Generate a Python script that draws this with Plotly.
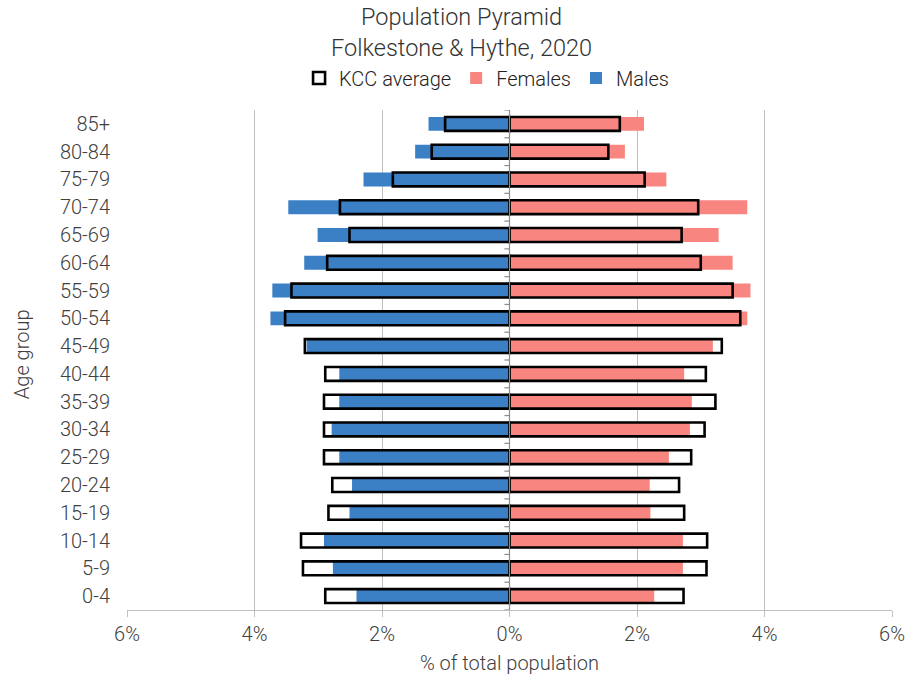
import plotly.graph_objects as go

age_groups = ["0-4", "5-9", "10-14", "15-19", "20-24", "25-29", "30-34", "35-39",
              "40-44", "45-49", "50-54", "55-59", "60-64", "65-69", "70-74",
              "75-79", "80-84", "85+"]
# percent of total population
males = [2.40, 2.77, 2.91, 2.51, 2.47, 2.67, 2.79, 2.67, 2.67, 3.18,
         3.75, 3.72, 3.22, 3.01, 3.47, 2.29, 1.48, 1.27]
females = [2.27, 2.72, 2.72, 2.21, 2.20, 2.50, 2.83, 2.86, 2.74, 3.19,
           3.73, 3.78, 3.50, 3.28, 3.73, 2.46, 1.81, 2.11]
kcc_males = [2.89, 3.24, 3.27, 2.84, 2.78, 2.91, 2.91, 2.91, 2.89, 3.21,
             3.52, 3.42, 2.86, 2.51, 2.66, 1.83, 1.22, 1.01]
kcc_females = [2.73, 3.09, 3.10, 2.74, 2.66, 2.85, 3.06, 3.23, 3.08, 3.33,
               3.62, 3.50, 3.00, 2.70, 2.96, 2.12, 1.55, 1.73]
x_ticks = [-6, -4, -2, 0, 2, 4, 6]
x_tick_labels = ["6%", "4%", "2%", "0%", "2%", "4%", "6%"]

BLUE = "#3b7fc4"
PINK = "#f8857f"
FONT = "Roboto"
TXT = "#404040"

fig = go.Figure()
fig.add_trace(go.Bar(y=age_groups, x=[-v for v in males], orientation="h",
                     name="Males", marker=dict(color=BLUE, line=dict(width=0)),
                     width=0.5, legendrank=3))
fig.add_trace(go.Bar(y=age_groups, x=females, orientation="h",
                     name="Females", marker=dict(color=PINK, line=dict(width=0)),
                     width=0.5, legendrank=2))
fig.add_trace(go.Bar(y=age_groups, x=[-v for v in kcc_males], orientation="h",
                     name="KCC average", legendgroup="kcc",
                     marker=dict(color="rgba(0,0,0,0)", line=dict(color="black", width=2.6)),
                     width=0.5, legendrank=1))
fig.add_trace(go.Bar(y=age_groups, x=kcc_females, orientation="h",
                     name="KCC average", legendgroup="kcc", showlegend=False,
                     marker=dict(color="rgba(0,0,0,0)", line=dict(color="black", width=2.6)),
                     width=0.5))

# zero-line axis
fig.add_trace(go.Scatter(x=[0, 0], y=[-0.5, 17.5], mode="lines",
                         line=dict(color="#8c8c8c", width=1.2),
                         yaxis="y2", showlegend=False, hoverinfo="skip"))

fig.update_layout(
    width=914, height=683,
    paper_bgcolor="white", plot_bgcolor="white",
    barmode="overlay",
    margin=dict(l=127, r=22, t=110, b=73, autoexpand=False),
    font=dict(family=FONT, color=TXT, size=20, weight=300),
    title=dict(text="Population Pyramid<br>Folkestone &amp; Hythe, 2020",
               x=0.505, xanchor="center", yref="container", y=0.963, yanchor="middle",
               automargin=False,
               font=dict(size=23.5, color="#333333", family=FONT, weight=300)),
    legend=dict(orientation="h", x=0.47, xanchor="center", y=1.064, yanchor="middle",
                font=dict(size=20, color="#222222", family=FONT, weight=300),
                itemwidth=30, tracegroupgap=0, bgcolor="rgba(0,0,0,0)"),
    xaxis=dict(range=[-6, 6], tickvals=x_ticks, ticktext=x_tick_labels,
               automargin=False,
               showgrid=True, gridcolor="#bfbfbf", gridwidth=1,
               zeroline=False, showline=True, linecolor="#bfbfbf", linewidth=1,
               ticks="outside", ticklen=6, tickcolor="#bfbfbf",
               tickfont=dict(size=20, color=TXT),
               title=dict(text="% of total population", standoff=10,
                          font=dict(size=20, color=TXT)),
               fixedrange=True),
    yaxis=dict(type="category", categoryorder="array", categoryarray=age_groups,
               range=[-0.5, 17.5], showgrid=False, zeroline=False, automargin=False,
               showline=False, ticks="", ticklabelstandoff=16,
               tickfont=dict(size=20, color=TXT)),
    yaxis2=dict(overlaying="y", range=[-0.5, 17.5], showgrid=False, zeroline=False,
                showline=False, showticklabels=False, automargin=False),
    annotations=[dict(text="Age group", textangle=-90, xref="paper", yref="paper",
                      x=-0.137, y=0.512, xanchor="center", yanchor="middle",
                      showarrow=False, font=dict(size=20, color=TXT))],
)

for i in range(19):
    fig.add_shape(type="line", xref="x", yref="y2", x0=-0.08, x1=0,
                  y0=i - 0.5, y1=i - 0.5, line=dict(color="#8c8c8c", width=1.2))

fig.write_html("out.html", config={"displayModeBar": False},
               post_script="document.body.style.margin='0';")
